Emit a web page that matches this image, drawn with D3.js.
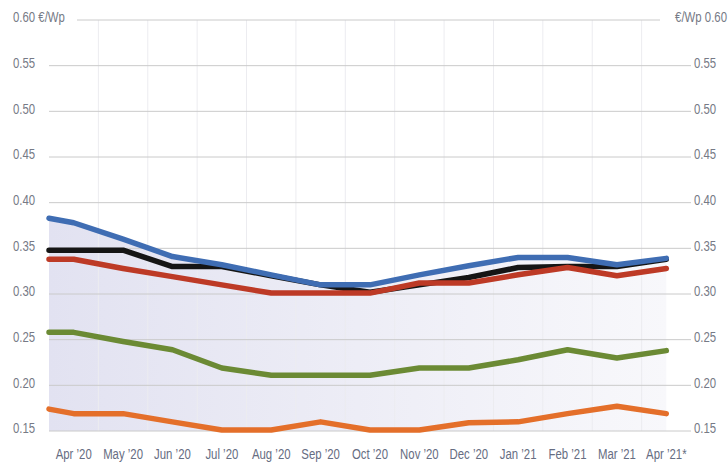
<!DOCTYPE html>
<html>
<head>
<meta charset="utf-8">
<script src="https://cdn.jsdelivr.net/npm/d3@7"></script>
<style>
  body { margin: 0; background: #fff; }
  text { font-family: "Liberation Sans", Arial, sans-serif; }
</style>
</head>
<body>
<div id="chart"></div>
<script>
const months = ["Apr ’20", "May ’20", "Jun ’20", "Jul ’20", "Aug ’20", "Sep ’20", "Oct ’20",
                "Nov ’20", "Dec ’20", "Jan ’21", "Feb ’21", "Mar ’21", "Apr ’21*"];
const yTicks = [0.15, 0.20, 0.25, 0.30, 0.35, 0.40, 0.45, 0.50, 0.55, 0.60];

// first value = start of the line at the left edge, then one value per month
const blueSeries   = [0.383, 0.378, 0.36, 0.341, 0.332, 0.321, 0.31, 0.31, 0.321, 0.331, 0.34, 0.34, 0.332, 0.339];
const blackSeries  = [0.348, 0.348, 0.348, 0.33, 0.33, 0.32, 0.31, 0.302, 0.31, 0.318, 0.329, 0.33, 0.33, 0.338];
const redSeries    = [0.338, 0.338, 0.328, 0.319, 0.31, 0.301, 0.301, 0.301, 0.312, 0.312, 0.321, 0.329, 0.32, 0.328];
const greenSeries  = [0.258, 0.258, 0.248, 0.239, 0.219, 0.211, 0.211, 0.211, 0.219, 0.219, 0.228, 0.239, 0.23, 0.238];
const orangeSeries = [0.174, 0.169, 0.169, 0.16, 0.151, 0.151, 0.16, 0.151, 0.151, 0.159, 0.16, 0.169, 0.177, 0.169];

const W = 728, H = 464;
const plot = { left: 49, right: 691, top: 20, bottom: 431 };
const squeeze = 0.76; // condensed look for the labels

const svg = d3.select("#chart").append("svg")
    .attr("width", W)
    .attr("height", H);

const x = d3.scaleBand().domain(months).range([plot.left, plot.right]).paddingInner(0).paddingOuter(0);
const y = d3.scaleLinear().domain([0.15, 0.60]).range([plot.bottom, plot.top]);

// x position of point i (0 = left edge start, then month centres)
const px = i => i === 0 ? x(months[0]) : x(months[i - 1]) + x.bandwidth() / 2;

const defs = svg.append("defs");
const grad = defs.append("linearGradient").attr("id", "fillGrad")
    .attr("x1", "0%").attr("x2", "100%").attr("y1", "0%").attr("y2", "0%");
grad.append("stop").attr("offset", "0%").attr("stop-color", "#e2e2f1");
grad.append("stop").attr("offset", "100%").attr("stop-color", "#f8f8fb");

// shaded area under the top line
svg.append("path")
    .datum(blueSeries)
    .attr("fill", "url(#fillGrad)")
    .attr("d", d3.area().x((d, i) => px(i)).y0(y(0.15)).y1(d => y(d)));

// vertical grid
svg.append("g").selectAll("line")
    .data(months.slice(1))
    .enter().append("line")
    .attr("x1", d => x(d)).attr("x2", d => x(d))
    .attr("y1", plot.top).attr("y2", plot.bottom)
    .attr("stroke", "#ececf0").attr("stroke-width", 1);

// horizontal grid
svg.append("g").selectAll("line")
    .data(yTicks)
    .enter().append("line")
    .attr("x1", d => d === 0.60 ? 77 : plot.left)
    .attr("x2", d => d === 0.60 ? 660 : plot.right)
    .attr("y1", d => y(d)).attr("y2", d => y(d))
    .attr("stroke", "#cacaca").attr("stroke-width", 1);

// y labels left and right
svg.append("g").selectAll("text")
    .data(yTicks)
    .enter().append("text")
    .attr("transform", d => `translate(13,${y(d) - 3}) scale(${squeeze},1)`)
    .attr("dy", "0.35em")
    .attr("fill", "#767a86")
    .attr("font-size", 15)
    .text(d => d === 0.60 ? "0.60 €/Wp" : d.toFixed(2));

svg.append("g").selectAll("text")
    .data(yTicks)
    .enter().append("text")
    .attr("transform", d => `translate(${d === 0.60 ? 727 : 694},${y(d) - 3}) scale(${squeeze},1)`)
    .attr("dy", "0.35em")
    .attr("text-anchor", d => d === 0.60 ? "end" : "start")
    .attr("fill", "#767a86")
    .attr("font-size", 15)
    .text(d => d === 0.60 ? "€/Wp 0.60" : d.toFixed(2));

// x labels
svg.append("g").selectAll("text")
    .data(months)
    .enter().append("text")
    .attr("transform", d => `translate(${x(d) + x.bandwidth() / 2},459) scale(${squeeze},1)`)
    .attr("text-anchor", "middle")
    .attr("fill", "#666d82")
    .attr("font-size", 15)
    .text(d => d);

const line = d3.line().x((d, i) => px(i)).y(d => y(d));

const seriesList = [
    { values: orangeSeries, color: "#e46f2a" },
    { values: greenSeries, color: "#6b8a34" },
    { values: blackSeries, color: "#151515" },
    { values: redSeries, color: "#bd3a26" },
    { values: blueSeries, color: "#3f6db3" }
];

seriesList.forEach(s => {
    svg.append("path")
        .datum(s.values)
        .attr("fill", "none")
        .attr("stroke", s.color)
        .attr("stroke-width", 5.5)
        .attr("stroke-linejoin", "round")
        .attr("stroke-linecap", "round")
        .attr("d", line);
});
</script>
</body>
</html>
